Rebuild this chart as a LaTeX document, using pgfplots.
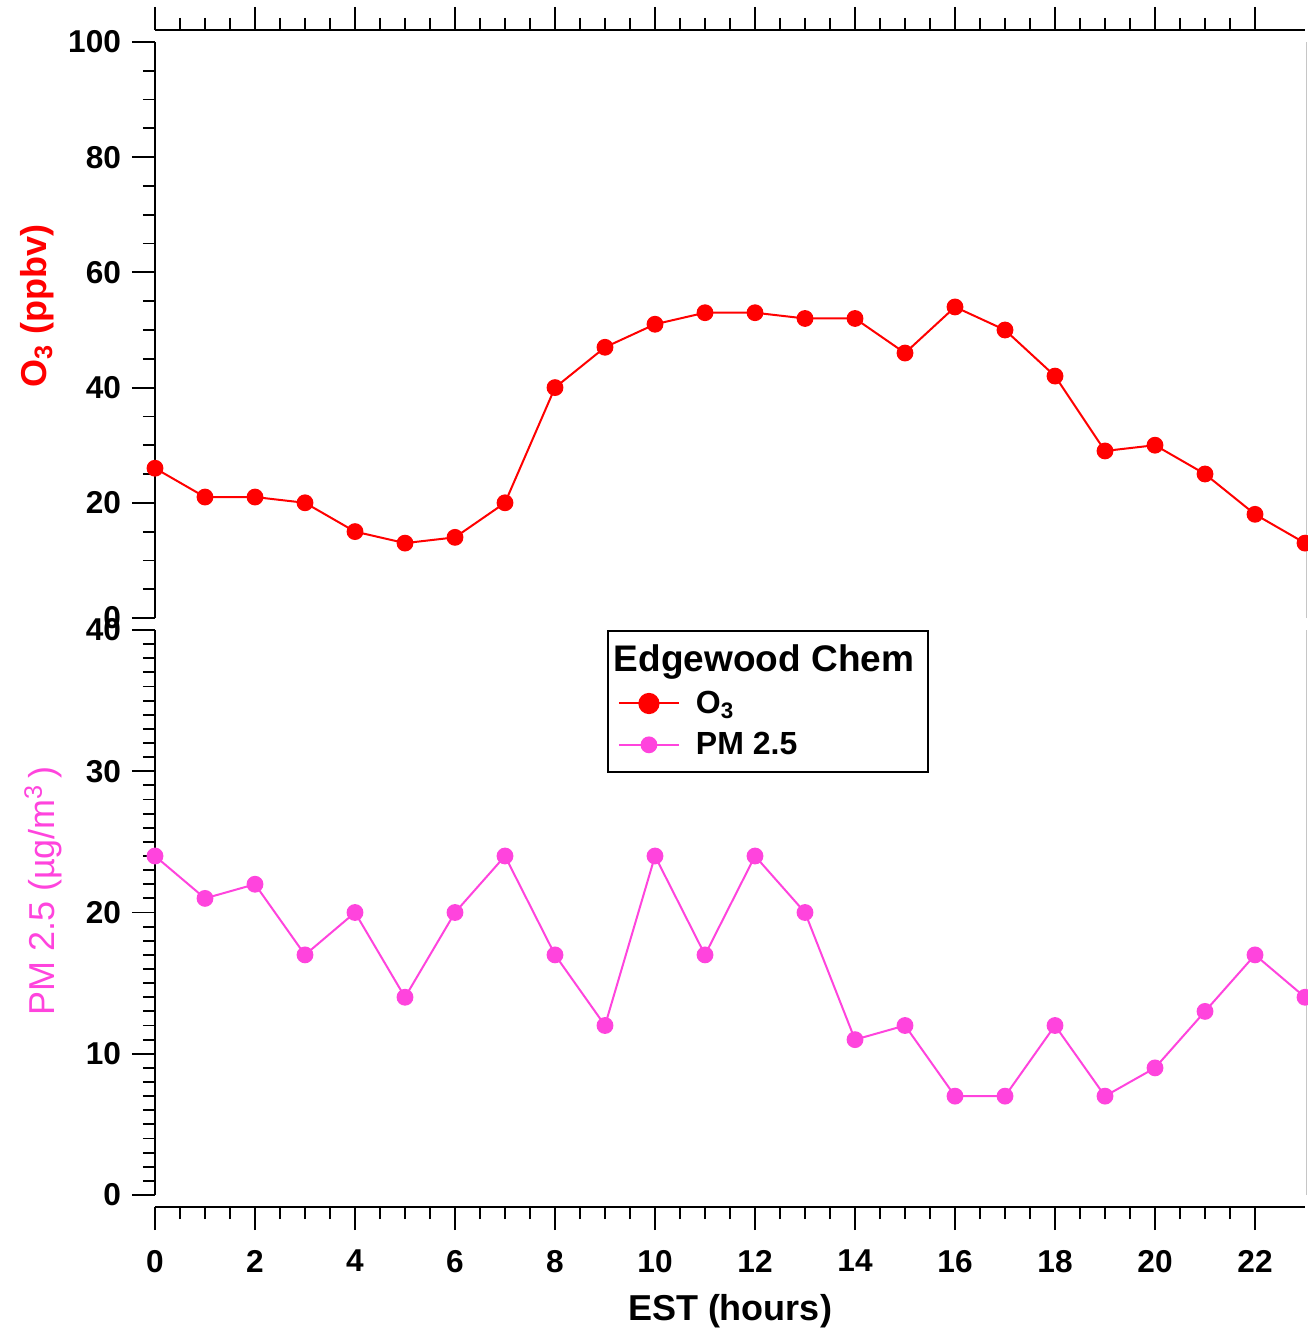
\documentclass[border=0pt]{standalone}
\usepackage{pgfplots}
\pgfplotsset{compat=1.18}
\usepackage{fontspec}
\setmainfont{Liberation Sans}
\definecolor{ozred}{RGB}{255,0,0}
\definecolor{pmpink}{RGB}{255,68,221}
\begin{document}
\begin{tikzpicture}
\pgfplotsset{
  common/.style={
    scale only axis, width=575pt, xmin=0, xmax=23,
    clip=false,
    tick align=outside,
    major tick length=11.5pt, minor tick length=6pt,
    every tick/.style={black, line width=0.9pt},
    axis line style={line width=1pt},
    tick label style={font=\fontsize{15.8}{18}\selectfont\bfseries},
    yticklabel style={xshift=-2pt},
    xticklabel style={yshift=-6.5pt},
    /pgf/number format/assume math mode=true,
  },
}
% shared x axis frame (top and bottom lines)
\begin{axis}[common, at={(77.5pt,-603.5pt)}, anchor=south west, height=588.5pt,
  ymin=0, ymax=1, axis y line=none, axis x line=box,
  xtick={0,2,...,22}, minor x tick num=3, xtick pos=both, xticklabel pos=lower,
  xlabel={EST (hours)}, xlabel style={font=\fontsize{18}{21}\selectfont\bfseries, yshift=-4pt},
]
\end{axis}
% top panel: O3
\begin{axis}[common, at={(77.5pt,-309pt)}, anchor=south west, height=288pt,
  ymin=0, ymax=100, axis x line=none, axis y line*=left,
  ytick={0,20,...,100}, minor y tick num=3,
  ylabel={O\textsubscript{3} (ppbv)},
  ylabel style={font=\fontsize{18}{21}\selectfont\bfseries, text=ozred,
    at={(axis description cs:-0.1026,0.542)}, anchor=center},
]
\addplot[color=ozred, line width=1pt, mark=*, mark size=3.7pt, mark options={solid, fill=ozred}]
coordinates {(0,26) (1,21) (2,21) (3,20) (4,15) (5,13) (6,14) (7,20) (8,40) (9,47) (10,51) (11,53)
(12,53) (13,52) (14,52) (15,46) (16,54) (17,50) (18,42) (19,29) (20,30) (21,25) (22,18) (23,13)};
\draw[gray!45, line width=0.6pt] ([xshift=0.6pt]rel axis cs:1,0) -- ([xshift=0.6pt]rel axis cs:1,1);
\end{axis}
% bottom panel: PM 2.5
\begin{axis}[common, at={(77.5pt,-597.5pt)}, anchor=south west, height=282.5pt,
  ymin=0, ymax=40, axis x line=none, axis y line*=left,
  ytick={0,10,...,40}, minor y tick num=9,
  ylabel={PM 2.5 (µg/m\textsuperscript{3}\,)},
  ylabel style={font=\fontsize{18}{21}\selectfont, text=pmpink,
    at={(axis description cs:-0.0974,0.538)}, anchor=center},
  legend image code/.code={\draw[mark repeat=2,mark phase=2,#1] plot coordinates {(0pt,0pt) (15pt,0pt) (30pt,0pt)};},
  legend style={at={(rel axis cs:0.393,1.0)}, anchor=north west, draw=black, line width=1pt,
    fill=white, font=\fontsize{16}{19}\selectfont\bfseries, row sep=4pt, inner sep=5pt,
    /tikz/every odd column/.append style={column sep=6pt}},
  legend cell align=left,
]
\addlegendimage{empty legend}
\addlegendentry{\hspace*{-41pt}\fontsize{18.5}{21}\selectfont Edgewood Chem}
\addlegendimage{color=ozred, line width=1pt, mark=*, mark size=4.8pt, mark options={solid, fill=ozred}}
\addlegendentry{O\textsubscript{3}}
\addplot[color=pmpink, line width=1pt, mark=*, mark size=3.7pt, mark options={solid, fill=pmpink}]
coordinates {(0,24) (1,21) (2,22) (3,17) (4,20) (5,14) (6,20) (7,24) (8,17) (9,12) (10,24) (11,17)
(12,24) (13,20) (14,11) (15,12) (16,7) (17,7) (18,12) (19,7) (20,9) (21,13) (22,17) (23,14)};
\addlegendentry{PM 2.5}
\draw[gray!45, line width=0.6pt] ([xshift=0.6pt]rel axis cs:1,0) -- ([xshift=0.6pt]rel axis cs:1,1);
\end{axis}
\pgfresetboundingbox
\path[use as bounding box] (0pt,0pt) rectangle (653.5pt,-665.5pt);
\end{tikzpicture}
\end{document}
